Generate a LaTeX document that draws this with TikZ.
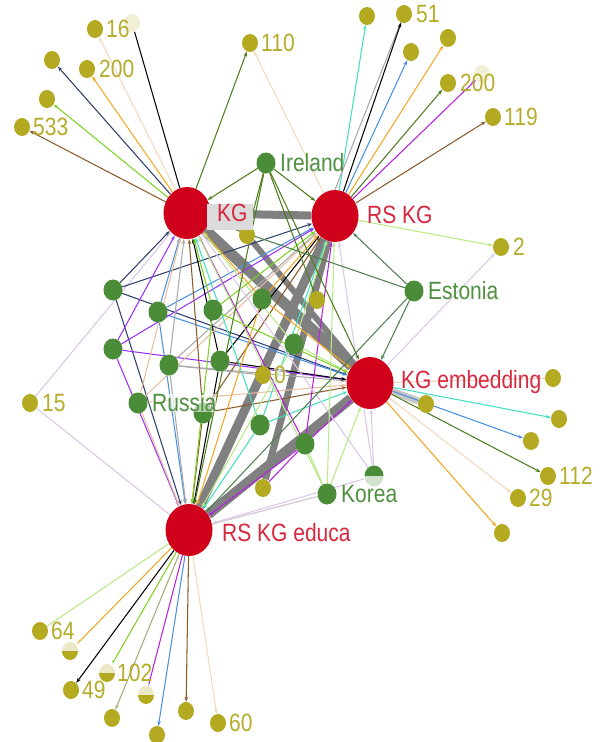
\documentclass[tikz,border=0pt]{standalone}
\usepackage{fontspec}
\setmainfont{Liberation Sans}[FakeStretch=0.84]
\usetikzlibrary{arrows.meta,shapes.geometric}
\pgfdeclarelayer{bands}\pgfdeclarelayer{edges}
\pgfsetlayers{bands,edges,main}
\definecolor{cred}{HTML}{D0021B}
\definecolor{cgreen}{HTML}{4A8C38}
\definecolor{cyel}{HTML}{B3AA22}
\definecolor{lred}{HTML}{D8283F}
\definecolor{lgreen}{HTML}{4F9140}
\definecolor{lyel}{HTML}{B5AC2A}
\definecolor{cnavy}{HTML}{2C3E6B}
\definecolor{cblue}{HTML}{4A90E2}
\definecolor{cpurple}{HTML}{9B30FF}
\definecolor{cgray}{HTML}{A8A8A8}
\definecolor{cpeach}{HTML}{E8BFA0}
\definecolor{cbrown}{HTML}{8B5A2B}
\definecolor{cturq}{HTML}{40E0C0}
\definecolor{cmag}{HTML}{B620E0}
\definecolor{corange}{HTML}{F5A623}
\definecolor{clgreen}{HTML}{B8E986}
\definecolor{cbgreen}{HTML}{7ED321}
\definecolor{clilac}{HTML}{DCC6EA}
\definecolor{cdgreen}{HTML}{4E7D1E}
\definecolor{csgreen}{HTML}{4F7F4F}
\definecolor{ckhaki}{HTML}{A8A878}
\definecolor{clpeach}{HTML}{F5D8B8}
\definecolor{cband}{HTML}{808080}
\tikzset{
  x=1pt, y=-1pt,
  hub/.style={ellipse, fill=cred, minimum width=47pt, minimum height=52pt, inner sep=0pt},
  gn/.style={ellipse, fill=cgreen, minimum width=19pt, minimum height=21pt, inner sep=0pt},
  yn/.style={ellipse, fill=cyel, minimum width=16pt, minimum height=18pt, inner sep=0pt},
  fn/.style={ellipse, fill=cyel!18, minimum width=16pt, minimum height=18pt, inner sep=0pt},
  lab/.style={anchor=west, inner sep=0pt, font=\fontsize{25}{25}\selectfont},
  rl/.style={lab, text=lred},
  gl/.style={lab, text=lgreen},
  yl/.style={lab, text=lyel},
  e/.style={line width=1.05pt},
  ar/.style={e, -{Stealth[length=5pt,width=3.5pt]}},
  band/.style={cband, line width=#1},
  veil/.style={fill=white, fill opacity=0.75, draw=none}
}
\begin{document}
\begin{tikzpicture}
\useasboundingbox (0,0) rectangle (600,742);
% ---------- hubs
\node[hub] (kg) at (187,213) {};
\node[hub] (rs) at (335,216) {};
\node[hub] (emb) at (370,383) {};
\node[hub] (edu) at (189,530) {};
% ---------- green nodes
\node[gn] (ire) at (266,163) {};
\node[gn] (est) at (414,291) {};
\node[gn] (rus) at (138,403) {};
\node[gn] (kor) at (327,494) {};
\node[gn] (g1) at (113,290) {};
\node[gn] (g2) at (158,312) {};
\node[gn] (g3) at (213,310) {};
\node[gn] (g4) at (262,299) {};
\node[gn] (g5) at (113,349) {};
\node[gn] (g6) at (169,365) {};
\node[gn] (g7) at (220,361) {};
\node[gn] (g8) at (294,344) {};
\node[gn] (g9) at (203,413) {};
\node[gn] (g10) at (260,425) {};
\node[gn] (g11) at (305,444) {};
\node[gn] (g12) at (374,476) {};
% ---------- central yellow nodes
\node[yn] (y1) at (247,235) {};
\node[yn] (y2) at (317,300) {};
\node[yn] (y0) at (263,375) {};
\node[yn] (y3) at (263,488) {};
\node[yn] (y4) at (426,404) {};
% ---------- peripheral yellow nodes
\node[yn] (a533) at (22,127) {};
\node[yn] (a1) at (47,99) {};
\node[yn] (a2) at (52,60) {};
\node[yn] (a200) at (87,69) {};
\node[yn] (a16) at (95,29) {};
\node[fn] (a3) at (132,23) {};
\node[yn] (a110) at (250,43) {};
\node[yn] (b1) at (367,16) {};
\node[yn] (b51) at (404,14) {};
\node[yn] (b2) at (411,52) {};
\node[yn] (b3) at (448,38) {};
\node[yn] (b200) at (448,83) {};
\node[fn] (b4) at (482,74) {};
\node[yn] (b119) at (493,117) {};
\node[yn] (btwo) at (501,247) {};
\node[yn] (c1) at (553,378) {};
\node[yn] (c2) at (559,419) {};
\node[yn] (c3) at (531,441) {};
\node[yn] (c112) at (548,476) {};
\node[yn] (c29) at (518,498) {};
\node[yn] (c4) at (502,533) {};
\node[yn] (d64) at (40,631) {};
\node[yn] (d1) at (70,651) {};
\node[yn] (d49) at (71,690) {};
\node[yn] (d102) at (107,673) {};
\node[yn] (d2) at (112,718) {};
\node[yn] (d3) at (146,695) {};
\node[yn] (d4) at (157,735) {};
\node[yn] (d5) at (186,711) {};
\node[yn] (d60) at (218,723) {};
\node[yn] (n15) at (30,403) {};
% ---------- veils on half faded nodes
\fill[veil] (62,640) rectangle (78,651);
\fill[veil] (99,662) rectangle (115,673);
\fill[veil] (138,684) rectangle (154,695);
\fill[veil] (364,476) rectangle (384,488);
% ---------- labels
\fill[gray!28] (207,204) rectangle (253,230);
\node[rl] (lkg) at (217,213) {KG};
\node[rl] (lrs) at (367,215) {RS KG};
\node[rl] (lemb) at (401,382) {KG embedding};
\node[rl] (ledu) at (222,533) {RS KG educa};
\node[gl] (lire) at (280,163) {Ireland};
\node[gl] (lest) at (428,291) {Estonia};
\node[gl, fill=white, fill opacity=0.6, text opacity=1] (lrus) at (152,403) {Russia};
\node[gl] (lkor) at (341,494) {Korea};
\node[yl, fill=white, fill opacity=0.5, text opacity=1] (l0) at (274,375) {0};
\node[yl] (l16) at (106,29) {16};
\node[yl] (l200a) at (99,69) {200};
\node[yl] (l533) at (33,127) {533};
\node[yl] (l110) at (261,43) {110};
\node[yl] (l51) at (416,14) {51};
\node[yl] (l200b) at (460,83) {200};
\node[yl] (l119) at (504,117) {119};
\node[yl] (l2) at (513,247) {2};
\node[yl] (l112) at (559,476) {112};
\node[yl] (l29) at (529,498) {29};
\node[yl] (l15) at (42,403) {15};
\node[yl] (l64) at (51,631) {64};
\node[yl] (l102) at (117,673) {102};
\node[yl] (l49) at (82,690) {49};
\node[yl] (l60) at (229,723) {60};
% ---------- thick bands
\begin{pgfonlayer}{bands}
\draw[band=11pt] (kg) -- (emb);
\draw[band=8pt] (kg) -- (rs);
\draw[band=6pt] (y1) -- (emb);
\draw[band=9pt] (rs) -- (edu);
\draw[band=7pt] (rs) -- (y3);
\draw[band=10pt] (emb) -- (edu);
\draw[band=7pt, color=gray!45] (emb) -- (y4);
\end{pgfonlayer}
% ---------- thin edges
\begin{pgfonlayer}{edges}
% KG periphery
\draw[ar, cbrown] (kg) -- (a533);
\draw[ar, cbgreen] (kg) -- (a1);
\draw[ar, cnavy] (kg) -- (a2);
\draw[ar, corange] (kg) -- (a200);
\draw[ar, clpeach] (kg) -- (a16);
\draw[e, black] (kg) -- (a3);
\draw[ar, cdgreen] (kg) -- (a110);
\draw[ar, clpeach] (rs) -- (a110);
% RS KG periphery
\draw[ar, cturq] (rs) -- (b1);
\draw[e, cgray] (rs.north) -- (b51);
\draw[ar, black] (rs) -- (b51);
\draw[ar, cblue] (rs) -- (b2);
\draw[ar, corange] (rs) -- (b3);
\draw[ar, cdgreen] (rs) -- (b200);
\draw[ar, cmag] (rs) -- (b4);
\draw[ar, cbrown] (rs) -- (b119);
\draw[ar, clgreen] (rs) -- (btwo);
\draw[ar, clilac] (emb) -- (btwo);
% KG embedding periphery
\draw[e, cpeach!70] (emb) -- (c1);
\draw[ar, cturq] (emb) -- (c2);
\draw[ar, cblue] (emb) -- (c3);
\draw[ar, cdgreen] (emb) -- (c112);
\draw[ar, clpeach] (emb) -- (c29);
\draw[ar, corange] (emb) -- (c4);
% RS KG educa periphery
\draw[e, clgreen] (edu) -- (d64);
\draw[e, corange] (edu) -- (d1);
\draw[ar, black] (edu) -- (d49);
\draw[ar, cbgreen] (edu) -- (d102);
\draw[ar, ckhaki] (edu) -- (d2);
\draw[e, cmag] (edu) -- (d3);
\draw[ar, cblue] (edu) -- (d4);
\draw[ar, cbrown] (edu) -- (d5);
\draw[ar, clpeach] (edu) -- (d60);
% 15
\draw[e, clilac] (n15) -- (kg);
\draw[e, clilac] (n15) -- (edu);
% cluster: each green node to the four hubs
\foreach \s/\c in {g1/cnavy, g2/cblue, g5/cpurple, g6/cgray, g7/black, rus/cpeach,
                   g9/cbrown, g10/cturq, g11/cmag, g4/corange, g8/clgreen, g3/cbgreen,
                   g12/clilac, kor/clgreen, ire/cdgreen, est/csgreen}{
  \draw[ar, \c] (\s) -- (kg);
  \draw[ar, \c] (\s) -- (rs);
  \draw[ar, \c] (\s) -- (emb);
  \draw[ar, \c] (\s) -- (edu);
}
\draw[e, cdgreen] (ire) -- (y1);
\draw[e, cdgreen] (ire) -- (y2);
\draw[e, cgray] (g6) -- (y0);
\draw[e, clgreen] (kor) -- (g11);
\draw[e, cmag] (g11) -- (y3);
\draw[e, clilac] (kor) -- (edu);
\end{pgfonlayer}
\end{tikzpicture}
\end{document}
